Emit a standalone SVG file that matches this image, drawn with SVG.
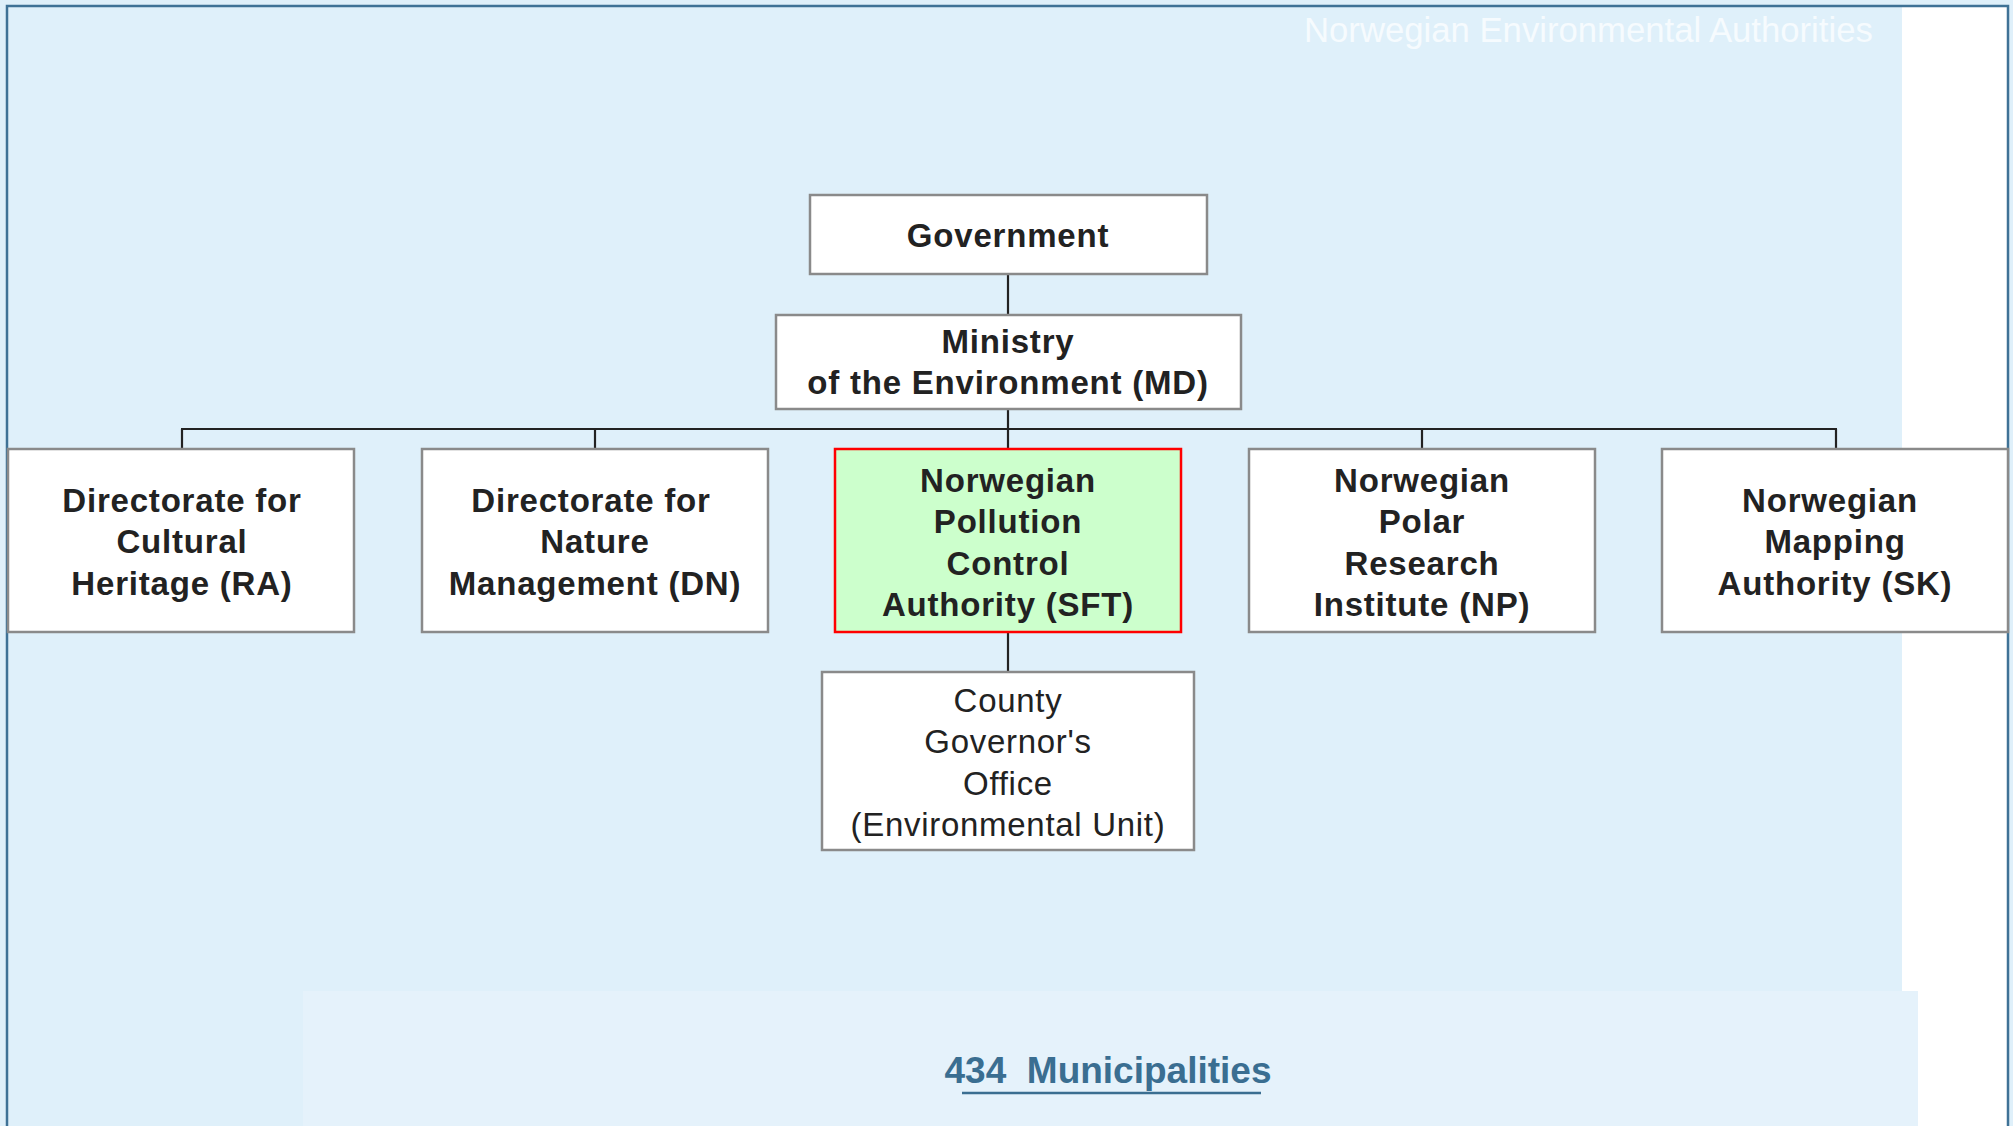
<svg xmlns="http://www.w3.org/2000/svg" width="2013" height="1126" viewBox="0 0 2013 1126">
<defs>
<style>
.box{fill:#ffffff;stroke:#8a8a8a;stroke-width:2.5}
.hl{fill:#ccffcc;stroke:#ff0000;stroke-width:2.5}
.b{font-family:"Liberation Sans",Arial,sans-serif;font-weight:bold;font-size:33px;letter-spacing:0.8px;fill:#222222;text-anchor:middle}
.r{font-family:"Liberation Sans",Arial,sans-serif;font-size:33px;letter-spacing:0.7px;fill:#222222;text-anchor:middle}
.con{stroke:#222222;stroke-width:2.2;fill:none}
</style>
</defs>
<rect x="0" y="0" width="2013" height="1126" fill="#dff0fa"/>
<rect x="1902" y="6" width="106" height="1120" fill="#ffffff"/>
<rect x="303" y="991" width="1615" height="135" fill="#e5f2fb"/>
<path d="M7,1126 V6 H2008 V1126" fill="none" stroke="#3f7296" stroke-width="2.5"/>
<text x="1304" y="42" font-family="'Liberation Sans',Arial,sans-serif" font-size="34.7" fill="#f6fbfe">Norwegian Environmental Authorities</text>

<g id="connectors">
<line class="con" x1="1008" y1="274" x2="1008" y2="315"/>
<line class="con" x1="1008" y1="409" x2="1008" y2="429"/>
<line class="con" x1="181" y1="429" x2="1837" y2="429" stroke-width="3"/>
<line class="con" x1="182" y1="429" x2="182" y2="449"/>
<line class="con" x1="595" y1="429" x2="595" y2="449"/>
<line class="con" x1="1008" y1="429" x2="1008" y2="449"/>
<line class="con" x1="1422" y1="429" x2="1422" y2="449"/>
<line class="con" x1="1836" y1="429" x2="1836" y2="449"/>
<line class="con" x1="1008" y1="632" x2="1008" y2="672"/>
</g>

<g id="government">
<rect class="box" x="810" y="195" width="397" height="79"/>
<text class="b" x="1008" y="247">Government</text>
</g>
<g id="ministry">
<rect class="box" x="776" y="315" width="465" height="94"/>
<text class="b" x="1008" y="353">Ministry</text>
<text class="b" x="1008" y="394">of the Environment (MD)</text>
</g>
<g id="ra">
<rect class="box" x="8" y="449" width="346" height="183"/>
<text class="b" x="182" y="512">Directorate for</text>
<text class="b" x="182" y="553">Cultural</text>
<text class="b" x="182" y="595">Heritage (RA)</text>
</g>
<g id="dn">
<rect class="box" x="422" y="449" width="346" height="183"/>
<text class="b" x="591" y="512">Directorate for</text>
<text class="b" x="595" y="553">Nature</text>
<text class="b" x="595" y="595">Management (DN)</text>
</g>
<g id="sft">
<rect class="hl" x="835" y="449" width="346" height="183"/>
<text class="b" x="1008" y="492">Norwegian</text>
<text class="b" x="1008" y="533">Pollution</text>
<text class="b" x="1008" y="575">Control</text>
<text class="b" x="1008" y="616">Authority (SFT)</text>
</g>
<g id="np">
<rect class="box" x="1249" y="449" width="346" height="183"/>
<text class="b" x="1422" y="492">Norwegian</text>
<text class="b" x="1422" y="533">Polar</text>
<text class="b" x="1422" y="575">Research</text>
<text class="b" x="1422" y="616">Institute (NP)</text>
</g>
<g id="sk">
<rect class="box" x="1662" y="449" width="346" height="183"/>
<text class="b" x="1830" y="512">Norwegian</text>
<text class="b" x="1835" y="553">Mapping</text>
<text class="b" x="1835" y="595">Authority (SK)</text>
</g>
<g id="county">
<rect class="box" x="822" y="672" width="372" height="178"/>
<text class="r" x="1008" y="712">County</text>
<text class="r" x="1008" y="753">Governor's</text>
<text class="r" x="1008" y="795">Office</text>
<text class="r" x="1008" y="836">(Environmental Unit)</text>
</g>
<g id="municipalities">
<text x="1108" y="1083" font-family="'Liberation Sans',Arial,sans-serif" font-weight="bold" font-size="37" fill="#3a6e91" text-anchor="middle">434&#160; Municipalities</text>
<line x1="962" y1="1093" x2="1261" y2="1093" stroke="#3a6e91" stroke-width="2.5"/>
</g>
</svg>
